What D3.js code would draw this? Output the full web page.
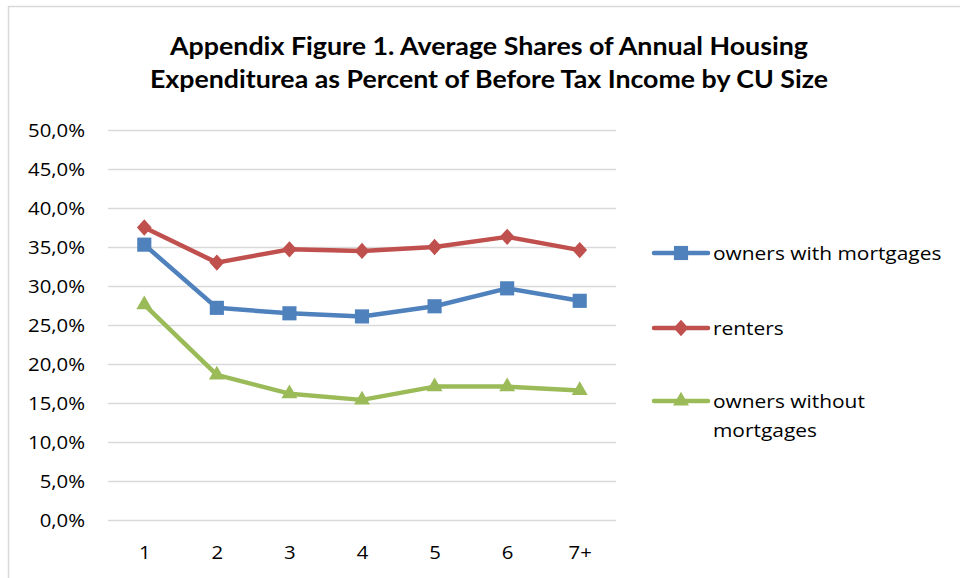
<!DOCTYPE html>
<html>
<head>
<meta charset="utf-8">
<script src="https://cdn.jsdelivr.net/npm/d3@7"></script>
<style>
  body { margin: 0; background: #fff; }
  svg { display: block; font-family: "Open Sans", sans-serif; }
</style>
</head>
<body>
<div id="chart"></div>
<script>
// data
var sizes = ["1", "2", "3", "4", "5", "6", "7+"];
var withMortgage = [35.3, 27.2, 26.5, 26.1, 27.4, 29.7, 28.1];
var renters = [37.5, 33.0, 34.7, 34.5, 35.0, 36.3, 34.6];
var withoutMortgage = [27.6, 18.6, 16.2, 15.4, 17.1, 17.1, 16.6];
var yTicks = [0, 5, 10, 15, 20, 25, 30, 35, 40, 45, 50];
var seriesNames = ["owners with mortgages", "renters", "owners without mortgages"];

// diamond a bit wider than d3's own
var diamond = {
  draw: function(ctx, size) {
    var h = Math.sqrt(size) * 0.58, w = h * 0.9;
    ctx.moveTo(0, -h); ctx.lineTo(w, 0); ctx.lineTo(0, h); ctx.lineTo(-w, 0); ctx.closePath();
  }
};

var series = [
  {name: seriesNames[0], values: withMortgage, color: "#4f81bd", marker: d3.symbolSquare, size: 200},
  {name: seriesNames[1], values: renters, color: "#c0504d", marker: diamond, size: 200},
  {name: seriesNames[2], values: withoutMortgage, color: "#9bbb59", marker: d3.symbolTriangle, size: 110}
];

// the reference font is wider than what we have, stretch text a bit
function stretch(sel, k) {
  sel.each(function() {
    var len = this.getComputedTextLength();
    d3.select(this).attr("textLength", len * k).attr("lengthAdjust", "spacingAndGlyphs");
  });
}

var W = 960, H = 578;
var svg = d3.select("#chart").append("svg")
  .attr("width", W)
  .attr("height", H);

// chart border (only top and left show in the shot)
svg.append("rect")
  .attr("x", 8.5).attr("y", 6.5)
  .attr("width", 1000).attr("height", 1000)
  .attr("fill", "none")
  .attr("stroke", "#d9d9d9")
  .attr("stroke-width", 1.5);

// title
var titleLines = ["Appendix Figure 1. Average Shares of Annual Housing",
                  "Expenditurea as Percent of Before Tax Income by CU Size"];
var titleWidths = [638, 678];
svg.selectAll(".title")
  .data(titleLines)
  .join("text")
    .attr("class", "title")
    .attr("x", 489)
    .attr("y", function(d, i) { return 55 + i * 33; })
    .attr("text-anchor", "middle")
    .attr("font-family", "Lato, sans-serif")
    .attr("font-weight", "bold")
    .attr("font-size", 24.5)
    .attr("fill", "#000")
    .attr("textLength", function(d, i) { return titleWidths[i]; })
    .attr("lengthAdjust", "spacingAndGlyphs")
    .text(function(d) { return d; });

var x = d3.scalePoint()
  .domain(sizes)
  .range([108, 616])
  .padding(0.5);

var y = d3.scaleLinear()
  .domain([0, 50])
  .range([520, 130]);

// gridlines
svg.append("g")
  .selectAll("line")
  .data(yTicks)
  .join("line")
    .attr("x1", 108).attr("x2", 616)
    .attr("y1", function(d) { return Math.round(y(d)) + 0.5; })
    .attr("y2", function(d) { return Math.round(y(d)) + 0.5; })
    .attr("stroke", "#d9d9d9")
    .attr("stroke-width", 1.5);

// y axis labels
var yAxis = svg.append("g")
  .attr("transform", "translate(85,0)")
  .call(d3.axisLeft(y).tickValues(yTicks).tickSize(0).tickPadding(0)
    .tickFormat(function(d) { return d3.format(".1f")(d).replace(".", ",") + "%"; }));
yAxis.select(".domain").remove();
yAxis.selectAll("text")
  .attr("font-family", "'Open Sans', sans-serif")
  .attr("font-size", 18.5)
  .attr("dy", "0.36em")
  .attr("fill", "#000")
  .call(stretch, 1.1);

// x axis labels
var xAxis = svg.append("g")
  .attr("transform", "translate(0,559)")
  .call(d3.axisBottom(x).tickSize(0).tickPadding(0));
xAxis.select(".domain").remove();
xAxis.selectAll("text")
  .attr("font-family", "'Open Sans', sans-serif")
  .attr("font-size", 18.5)
  .attr("dy", 0)
  .attr("fill", "#000")
  .call(stretch, 1.1);

var line = d3.line()
  .x(function(d, i) { return x(sizes[i]); })
  .y(function(d) { return y(d); });

series.forEach(function(s) {
  svg.append("path")
    .attr("fill", "none")
    .attr("stroke", s.color)
    .attr("stroke-width", 4.5)
    .attr("stroke-linejoin", "round")
    .attr("stroke-linecap", "round")
    .attr("d", line(s.values));

  svg.append("g")
    .selectAll("path")
    .data(s.values)
    .join("path")
      .attr("transform", function(d, i) { return "translate(" + x(sizes[i]) + "," + y(d) + ")"; })
      .attr("d", d3.symbol().type(s.marker).size(s.size))
      .attr("fill", s.color);
});

// legend
var legendY = [253, 328, 401];
series.forEach(function(s, i) {
  var g = svg.append("g").attr("transform", "translate(654," + legendY[i] + ")");
  g.append("line")
    .attr("x1", 0).attr("x2", 54)
    .attr("stroke", s.color)
    .attr("stroke-width", 4.5)
    .attr("stroke-linecap", "round");
  g.append("path")
    .attr("transform", "translate(27,0)")
    .attr("d", d3.symbol().type(s.marker).size(s.size))
    .attr("fill", s.color);
  var lines = s.name == "owners without mortgages" ? ["owners without", "mortgages"] : [s.name];
  g.selectAll("text")
    .data(lines)
    .join("text")
      .attr("x", 59)
      .attr("y", function(d, j) { return 7 + j * 29; })
      .attr("font-size", 18.5)
      .attr("fill", "#000")
      .text(function(d) { return d; })
      .call(stretch, 1.13);
});
</script>
</body>
</html>
